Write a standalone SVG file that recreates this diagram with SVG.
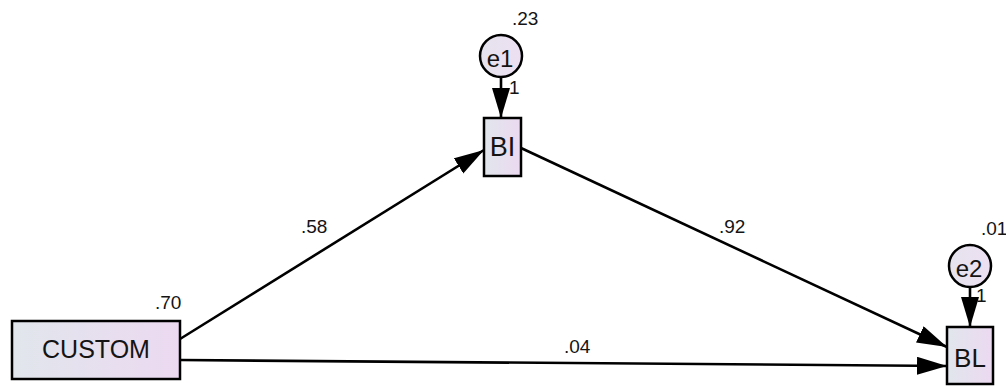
<svg xmlns="http://www.w3.org/2000/svg" width="1006" height="386" viewBox="0 0 1006 386">
<style>
.box{stroke:#000;stroke-width:2.5;fill:url(#g)}
.err{stroke:#000;stroke-width:2.5;fill:url(#ge)}
.nt{font-family:"Liberation Sans",Arial,sans-serif;fill:#141414;text-anchor:middle}
.lb{font-family:"Liberation Sans",Arial,sans-serif;font-size:19px;fill:#141414}
.ln{stroke:#000;stroke-width:2.6;fill:none;marker-end:url(#ah)}
</style>
<defs>
<linearGradient id="g" x1="0" y1="0" x2="1" y2="0">
<stop offset="0" stop-color="#e1e6ec"/>
<stop offset="1" stop-color="#ecd9f1"/>
</linearGradient>
<linearGradient id="ge" x1="0" y1="0" x2="1" y2="0">
<stop offset="0" stop-color="#e6e4ee"/>
<stop offset="1" stop-color="#ecdff2"/>
</linearGradient>
<marker id="ah" markerUnits="userSpaceOnUse" markerWidth="32" markerHeight="20" refX="30" refY="9" orient="auto">
<path d="M0,0 L30,9 L0,18 z" fill="#000"/>
</marker>
</defs>
<rect width="1006" height="386" fill="#fff"/>
<g id="connectors">
<line class="ln" x1="180" y1="339" x2="484" y2="150"/>
<line class="ln" x1="521" y1="148" x2="947" y2="347"/>
<line class="ln" x1="180" y1="360" x2="947" y2="366"/>
<line class="ln" x1="501" y1="77" x2="501" y2="118"/>
<line class="ln" x1="970" y1="287" x2="970" y2="327"/>
</g>
<g id="CUSTOM">
<rect class="box" x="12" y="321" width="168" height="58"/>
<text class="nt" x="96" y="358" font-size="25">CUSTOM</text>
<text class="lb" x="155" y="309">.70</text>
</g>
<g id="BI">
<rect class="box" x="484" y="118" width="37" height="58"/>
<text class="nt" x="502.5" y="156" font-size="27">BI</text>
</g>
<g id="BL">
<rect class="box" x="947" y="327" width="46" height="57"/>
<text class="nt" x="970" y="367" font-size="26">BL</text>
</g>
<g id="e1">
<circle class="err" cx="501" cy="56" r="21"/>
<text class="nt" x="500" y="67" font-size="24">e1</text>
<text class="lb" x="512" y="25">.23</text>
<text class="lb" x="509" y="94">1</text>
</g>
<g id="e2">
<circle class="err" cx="970" cy="266" r="21"/>
<text class="nt" x="969" y="277" font-size="24">e2</text>
<text class="lb" x="981" y="235">.01</text>
<text class="lb" x="976" y="302">1</text>
</g>
<g id="labels">
<text class="lb" x="301" y="233">.58</text>
<text class="lb" x="719" y="233">.92</text>
<text class="lb" x="564" y="353">.04</text>
</g>
</svg>
